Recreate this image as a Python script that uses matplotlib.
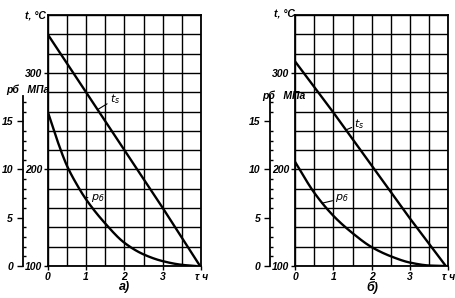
import numpy as np
import matplotlib
matplotlib.use('Agg')
import matplotlib.pyplot as plt
from matplotlib.ticker import MultipleLocator, FixedLocator

# данные (τ в часах, t в °C, p в МПа)
tau_ts_a = [0, 1, 2, 3, 3.97]
ts_a = [340, 280, 220, 160, 100]
tau_p_a = [0, 0.25, 0.5, 0.75, 1, 1.5, 2, 2.5, 3, 3.5, 3.85]
p_a = [16.0, 13.0, 10.4, 8.5, 6.9, 4.4, 2.4, 1.2, 0.5, 0.12, 0.0]

tau_ts_b = [0, 1, 2, 3, 3.93]
ts_b = [312, 259, 204, 149, 100]
tau_p_b = [0, 0.5, 1, 1.5, 2, 2.5, 3, 3.5, 3.9]
p_b = [10.8, 7.6, 5.2, 3.4, 1.95, 1.0, 0.35, 0.05, 0.0]

t_ticks = [100, 200, 300]
p_ticks = [0, 5, 10, 15]
x_ticks = [0, 1, 2, 3, 4]
x_labels = ['0', '1', '2', '3', 'τ ч']

plt.rcParams['font.family'] = ['Liberation Sans Narrow', 'Liberation Sans', 'DejaVu Sans']

W, H = 456, 298
fig = plt.figure(figsize=(W / 100, H / 100), dpi=100)
fnt = dict(fontsize=7.5, fontstyle='italic', fontweight='bold')


def smooth(x, y, n=200):
    # гладкая кривая через точки (монотонная кубическая, PCHIP)
    xs = np.linspace(x[0], x[-1], n)
    x = np.asarray(x, float)
    y = np.asarray(y, float)
    h = np.diff(x)
    d = np.diff(y) / h
    m = np.zeros_like(y)
    for k in range(1, len(x) - 1):
        if d[k - 1] * d[k] > 0:
            w1 = 2 * h[k] + h[k - 1]
            w2 = h[k] + 2 * h[k - 1]
            m[k] = (w1 + w2) / (w1 / d[k - 1] + w2 / d[k])
    m[0] = d[0]
    m[-1] = d[-1]
    ys = np.empty_like(xs)
    for i, xv in enumerate(xs):
        k = min(np.searchsorted(x, xv, side='right') - 1, len(x) - 2)
        t = (xv - x[k]) / h[k]
        h00 = 2 * t**3 - 3 * t**2 + 1
        h10 = t**3 - 2 * t**2 + t
        h01 = -2 * t**3 + 3 * t**2
        h11 = t**3 - t**2
        ys[i] = h00 * y[k] + h10 * h[k] * m[k] + h01 * y[k + 1] + h11 * h[k] * m[k + 1]
    return xs, ys


def panel(left_px, tau_ts, ts, tau_p, p, ts_lab, p_lab, tlab_xy, plab_xy, letter):
    ax = fig.add_axes([left_px / W, 1 - 266 / H, 153.5 / W, 251 / H])
    ax.set_xlim(0, 4)
    ax.set_ylim(100, 360)
    ax.xaxis.set_minor_locator(MultipleLocator(0.5))
    ax.yaxis.set_minor_locator(MultipleLocator(20))
    ax.grid(True, which='both', color='black', linewidth=1.0)
    for s in ax.spines.values():
        s.set_linewidth(1.3)
    ax.set_xticks(x_ticks)
    ax.set_xticklabels(x_labels, **fnt)
    ax.set_yticks(t_ticks)
    ax.set_yticklabels([str(v) for v in t_ticks], **fnt)
    ax.tick_params(which='major', length=3, width=1, pad=1)
    ax.tick_params(which='minor', length=0)

    # t_s прямая
    ax.plot(tau_ts, ts, color='black', linewidth=1.7)
    # p_б кривая в масштабе t = 100 + 10 p
    xs, ys = smooth(tau_p, p)
    ax.plot(xs, 100 + 10 * ys, color='black', linewidth=1.7)

    ax.annotate('$t_s$', xy=ts_lab[0], xytext=ts_lab[1], fontsize=8,
                va='center', ha='left', family='DejaVu Sans',
                arrowprops=dict(arrowstyle='-', color='black', lw=0.8,
                                shrinkA=0, shrinkB=0))
    ax.annotate('$p_б$', xy=p_lab[0], xytext=p_lab[1], fontsize=8,
                va='center', ha='left', family='DejaVu Sans',
                arrowprops=dict(arrowstyle='-', color='black', lw=0.8,
                                shrinkA=0, shrinkB=0))

    # ось давления
    ax2 = ax.twinx()
    ax2.set_ylim(0, 26)
    for k in ['top', 'bottom', 'right']:
        ax2.spines[k].set_visible(False)
    ax2.spines['left'].set_visible(True)
    ax2.spines['left'].set_position(('outward', 18))
    ax2.spines['left'].set_bounds(0, 17.6)
    ax2.spines['left'].set_linewidth(1.3)
    ax2.yaxis.set_ticks_position('left')
    ax2.yaxis.set_label_position('left')
    ax2.set_yticks(p_ticks)
    ax2.set_yticklabels([str(v) for v in p_ticks], **fnt)
    ax2.yaxis.set_minor_locator(FixedLocator([v for v in range(0, 18) if v % 5]))
    ax2.tick_params(which='major', length=4, width=1, pad=3)
    ax2.tick_params(which='minor', length=2.5, width=1, direction='in')

    fig.text(tlab_xy[0] / W, 1 - tlab_xy[1] / H, 't, °C', ha='left', va='center', **fnt)
    fig.text(plab_xy[0] / W, 1 - plab_xy[1] / H, 'pб   МПа', ha='left', va='center', **fnt)
    fig.text((left_px + 77) / W, 1 - 287 / H, letter, ha='center', va='center',
             fontsize=9, fontstyle='italic', fontweight='bold')
    return ax


panel(47.7, tau_ts_a, ts_a, tau_p_a, p_a,
      ((1.3, 262), (1.62, 273)), ((0.97, 171), (1.12, 170)),
      (25, 15), (6, 90), 'а)')
panel(295, tau_ts_b, ts_b, tau_p_b, p_b,
      ((1.33, 241), (1.55, 247)), ((0.7, 165), (1.05, 170)),
      (274, 13), (262, 96), 'б)')

fig.savefig('out.png', dpi=100)
